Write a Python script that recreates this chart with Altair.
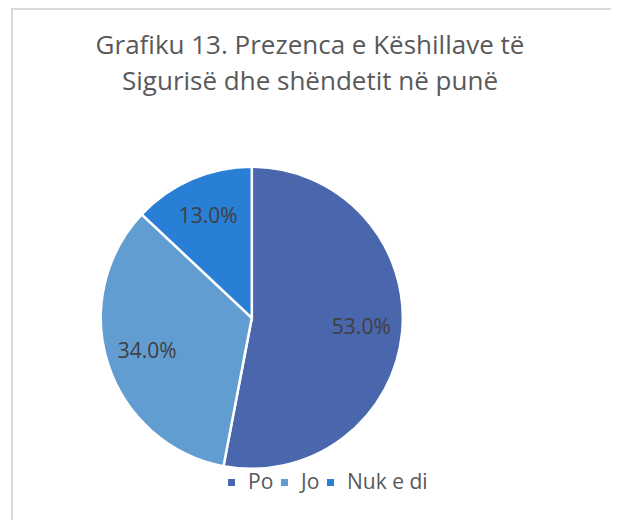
import altair as alt
import pandas as pd

# Data
categories = ["Po", "Jo", "Nuk e di"]
values = [53.0, 34.0, 13.0]
colors = ["#4A66AC", "#629DD1", "#297FD5"]
title_lines = ["Grafiku 13. Prezenca e Këshillave të", "Sigurisë dhe shëndetit në punë"]

df = pd.DataFrame({
    "cat": categories,
    "value": values,
    "idx": list(range(len(categories))),
})
df["label"] = [f"{v:.1f}%" for v in values]

CX, CY = 243.8, 309.8
FONT = "Open Sans"

base = alt.Chart(df)

frame = alt.Chart(pd.DataFrame({"a": [0]})).mark_rect(
    fill=None, stroke="#d9d9d9", strokeWidth=2
).encode(
    x=alt.value(4), y=alt.value(1), x2=alt.value(900), y2=alt.value(900)
)

pie = base.mark_arc(outerRadius=151, stroke="white", strokeWidth=2.5).encode(
    theta=alt.Theta("value:Q", stack=True),
    color=alt.Color(
        "cat:N",
        scale=alt.Scale(domain=categories, range=colors),
        legend=alt.Legend(
            title=None,
            orient="none",
            legendX=213,
            legendY=464,
            direction="horizontal",
            symbolType="square",
            symbolSize=49,
            symbolStrokeWidth=0,
            labelFont=FONT,
            labelFontSize=21,
            labelColor="#595959",
            labelOffset=6,
            columnPadding=0,
            gridAlign="none",
            padding=0,
        ),
    ),
    order=alt.Order("idx:Q"),
    x=alt.value(CX),
    y=alt.value(CY),
)

labels = base.mark_text(
    radius=110, font=FONT, fontSize=21, color="#404040", align="center", baseline="middle"
).encode(
    theta=alt.Theta("value:Q", stack=True),
    order=alt.Order("idx:Q"),
    text="label:N",
    x=alt.value(CX),
    y=alt.value(CY),
)

title_layers = []
for i, line in enumerate(title_lines):
    title_layers.append(
        alt.Chart(pd.DataFrame({"t": [line]})).mark_text(
            font=FONT, fontSize=26, color="#595959", align="center", baseline="alphabetic"
        ).encode(text="t:N", x=alt.value(302), y=alt.value(46 + 36 * i))
    )

chart = alt.layer(frame, pie, labels, *title_layers).properties(
    width=603, height=512, autosize="none", padding=0, background="white"
).configure_view(stroke=None)

chart.save("out.html", embed_options={"renderer": "svg", "actions": False})
